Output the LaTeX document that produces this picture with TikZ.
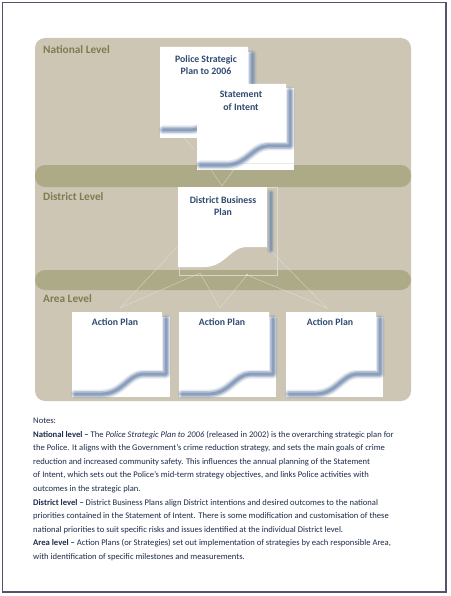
\documentclass[tikz,border=0pt]{standalone}
\usepackage{fontspec}
\setmainfont{Carlito}
\definecolor{panelc}{HTML}{CDC6B5}
\definecolor{bandc}{HTML}{ADAA88}
\definecolor{lvlc}{HTML}{7B7D50}
\definecolor{docc}{HTML}{2F4A70}
\definecolor{notec}{HTML}{1E2B4A}
\definecolor{faintc}{HTML}{E2E4DE}
\definecolor{shadc}{HTML}{7890B2}
\definecolor{framec}{HTML}{55536A}
\tikzset{
  panel/.style={fill=panelc, draw=none},
  band/.style={fill=bandc, draw=none, rounded corners=10pt},
  lvl/.style={anchor=base west, text=lvlc, font=\fontsize{11.3}{13}\selectfont\bfseries, inner sep=0pt},
  doct/.style={align=center, text=docc, font=\fontsize{9.8}{12.5}\selectfont\bfseries, inner sep=0pt},
  note/.style={anchor=base west, text=notec, font=\fontsize{8.6}{10}\selectfont, inner sep=0pt},
  faint/.style={draw=faintc, line width=0.4pt, opacity=.75},
  shadowline/.style={draw=shadc, line join=round, line cap=round},
}
% #1 x1, #2 y1, #3 x2, #4 yr (right bottom), #5 yb (left bottom), #6 full shadow (1) or strip (0)
\newcommand\shadowpath[5]{%
  ({#3+4},{#2+7}) -- ({#3+4},{#4+4}) -- ({#3-0.245*(#3-#1)+3},{#4+4})
      .. controls ({#3-0.41*(#3-#1)+3},{#4+5}) and ({#3-0.47*(#3-#1)+3},{#5+4}) ..
      ({#1+0.31*(#3-#1)+3},{#5+5}) -- ({#1+3},{#5+5})}
\newcommand\paperdoc[6]{%
  \ifnum#6=1
    \draw[shadowline, line width=9pt, opacity=.2] \shadowpath{#1}{#2}{#3}{#4}{#5};
    \draw[shadowline, line width=6pt, opacity=.4] \shadowpath{#1}{#2}{#3}{#4}{#5};
    \draw[shadowline, line width=3pt, opacity=.7] \shadowpath{#1}{#2}{#3}{#4}{#5};
  \else
    \draw[shadowline, line width=7pt, opacity=.25] ({#3+3.5},{#2+6}) -- ({#3+3.5},{#4+3});
    \draw[shadowline, line width=4pt, opacity=.4] ({#3+3.5},{#2+6}) -- ({#3+3.5},{#4+3});
    \draw[shadowline, line width=2pt, opacity=.7] ({#3+3.5},{#2+6}) -- ({#3+3.5},{#4+3});
  \fi
  \fill[white] (#1,#2) -- (#3,#2) -- (#3,#4) -- ({#3-0.245*(#3-#1)},#4)
      .. controls ({#3-0.41*(#3-#1)},{#4+1}) and ({#3-0.47*(#3-#1)},{#5-1}) ..
      ({#1+0.31*(#3-#1)},#5) -- (#1,#5) -- cycle;
}
\begin{document}
\begin{tikzpicture}[x=1pt, y=-1pt]
\useasboundingbox (0,0) rectangle (450,596);
\fill[white] (0,0) rectangle (450,596);
% outer frame
\draw[framec, line width=1.2pt] (2.5,2.5) rectangle (446,592);
% panel and bands
\fill[panel, rounded corners=10pt] (35,38) rectangle (411,401);
\fill[band] (35,165) rectangle (411,187);
\fill[band] (35,270) rectangle (411,290);

% faint connector coordinates
\coordinate (sa) at (210,168);
\coordinate (sb) at (235,168);
\coordinate (sv) at (222,186);
\coordinate (pa) at (183,137);
\coordinate (pb) at (195,150);
\coordinate (d1) at (177,247);
\coordinate (d2) at (200,273);
\coordinate (d3) at (247,275);
\coordinate (d4) at (267,247);
\coordinate (a1) at (120,308);
\coordinate (a2) at (220,308);
\coordinate (a3) at (327,308);
\draw[faint] (sa) -- (sv) -- (sb);
\draw[faint] (pa) -- (pb);
\draw[faint] (d1) -- (a1) -- (d2) -- (a2) -- (d3) -- (a3) -- (d4);
\fill[white] (d3) circle (0.8);

% Police Strategic Plan
\fill[white] (160,52) rectangle (252,138);
\paperdoc{160}{47}{248}{108}{125}{1}
% Statement of Intent
\fill[white] (197,88) rectangle (294,170);
\draw[faint] (197,163) -- (294,163);
\paperdoc{197}{84}{286}{142}{160}{1}
% District Business Plan
\draw[faint] (179,187) rectangle (277,275);
\paperdoc{178}{187}{267}{247}{267}{0}
% Action plans
\fill[white] (72,317) rectangle (170,397);
\paperdoc{72}{312}{162}{370}{389}{1}
\fill[white] (179,317) rectangle (276,397);
\paperdoc{179}{312}{269}{370}{389}{1}
\fill[white] (286,317) rectangle (383,397);
\paperdoc{286}{312}{376}{370}{389}{1}

% document titles
\node[doct] (psp) at (206,65) {Police Strategic\\Plan to 2006};
\node[doct] (soi) at (241,101) {Statement\\of Intent};
\node[doct] (dbp) at (223,206) {District Business\\Plan};
\node[doct] (ap1) at (115,322) {Action Plan};
\node[doct] (ap2) at (222,322) {Action Plan};
\node[doct] (ap3) at (330,322) {Action Plan};

% level labels
\node[lvl] (nl) at (43,54) {National Level};
\node[lvl] (dl) at (43,200) {District Level};
\node[lvl] (al) at (43,302) {Area Level};

% notes
\node[note] (n0) at (33,423) {Notes:};
\node[note] (n1) at (33,437) {\textbf{National level –} The \textit{Police Strategic Plan to 2006} (released in 2002) is the overarching strategic plan for};
\node[note] (n2) at (33,450.6) {the Police. It aligns with the Government’s crime reduction strategy, and sets the main goals of crime};
\node[note] (n3) at (33,464.2) {reduction and increased community safety. This influences the annual planning of the Statement};
\node[note] (n4) at (33,477.8) {of Intent, which sets out the Police’s mid-term strategy objectives, and links Police activities with};
\node[note] (n5) at (33,491.4) {outcomes in the strategic plan.};
\node[note] (n6) at (33,505) {\textbf{District level –} District Business Plans align District intentions and desired outcomes to the national};
\node[note] (n7) at (33,518.6) {priorities contained in the Statement of Intent. There is some modification and customisation of these};
\node[note] (n8) at (33,532.2) {national priorities to suit specific risks and issues identified at the individual District level.};
\node[note] (n9) at (33,545.8) {\textbf{Area level –} Action Plans (or Strategies) set out implementation of strategies by each responsible Area,};
\node[note] (n10) at (33,559.4) {with identification of specific milestones and measurements.};
\end{tikzpicture}
\end{document}
